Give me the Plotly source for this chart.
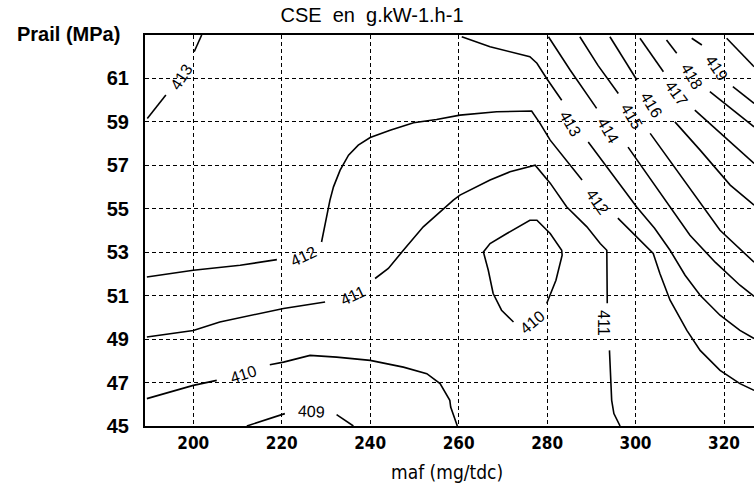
import plotly.graph_objects as go

# ---- axis ticks ----
maf_ticks = [200, 220, 240, 260, 280, 300, 320]
prail_ticks = [45, 47, 49, 51, 53, 55, 57, 59, 61]

# ---- contour lines (maf, Prail); None = label gap ----
c409_x = [212.1, 219.6, 220.7, None, 232.4, 236.2]
c409_y = [45.0, 45.52, 45.57, None, 45.52, 45.0]

c410a_x = [189.5, 200.0, 205.3, None, 217.3, 220.4, 226.4, 232.4, 240.0, 247.5, 252.8, 255.8, 258.0, 258.2, 259.7]
c410a_y = [46.26, 46.87, 47.10, None, 47.82, 47.94, 48.25, 48.17, 48.02, 47.71, 47.41, 46.95, 46.18, 45.87, 45.0]

c410b_x = [272.4, 269.7, 267.8, 266.7, 265.6, 267.1, 270.9, 276.1, 277.7, 280.7, 283.3, 283.4, 282.0, 279.9]
c410b_y = [49.79, 50.33, 51.10, 52.17, 53.01, 53.40, 53.86, 54.47, 54.47, 53.86, 53.09, 52.86, 51.71, 50.64]

c411_x = [189.5, 200.0, 206.0, 220.4, 229.8, None,
          241.1, 244.1, 247.5, 252.0, 258.8, 260.3, 267.1, 271.6, 277.3, 280.7, 284.4, 289.0, 292.0, 293.5, 293.6, None,
          294.1, 294.6, 295.1, 296.5]
c411_y = [49.10, 49.40, 49.79, 50.41, 50.71, None,
          51.79, 52.25, 53.09, 54.17, 55.40, 55.63, 56.32, 56.70, 57.01, 56.18, 55.09, 54.17, 53.40, 53.09, 50.65, None,
          48.48, 46.18, 45.57, 45.0]

c412_x = [189.5, 200.0, 210.6, 218.9, None,
          229.0, 230.0, 230.9, 231.7, 233.2, 235.1, 237.3, 240.0, 244.5, 249.8, 255.0, 260.3, 268.6, 276.5, 278.4, 280.7, 282.9, 287.9, None,
          296.0, 300.3, 304.0, 305.5, 307.8, 311.6, 314.6, 319.1, 323.6, 326.8]
c412_y = [51.86, 52.17, 52.40, 52.66, None,
          53.47, 54.47, 55.40, 56.01, 56.78, 57.47, 57.93, 58.28, 58.62, 58.96, 59.11, 59.31, 59.47, 59.50, 58.93, 58.16, 57.61, 56.32, None,
          54.57, 53.70, 52.94, 52.02, 50.79, 49.40, 48.48, 47.56, 46.95, 46.64]

c413_x = [189.6, 193.8, None, 200.2, 201.9, None,
          260.7, 267.1, 276.1, 277.7, 279.9, 283.3, None,
          289.3, 300.3, 304.3, 307.8, 311.2, 314.6, 319.1, 323.6, 326.8]
c413_y = [59.16, 60.24, None, 62.23, 63.0, None,
          62.92, 62.46, 62.00, 61.70, 61.00, 60.00, None,
          58.07, 55.07, 54.10, 53.09, 51.94, 51.02, 50.10, 49.40, 49.03]

c414_x = [280.3, 285.2, 291.2, None, 298.3, 307.8, 312.3, 318.0, 323.6, 326.8]
c414_y = [62.92, 61.39, 59.62, None, 57.84, 55.09, 53.78, 52.54, 51.48, 50.97]

c415_x = [287.4, 291.5, 296.1, None, 303.3, 314.6, 319.1, 326.8]
c415_y = [62.92, 61.60, 60.31, None, 58.47, 55.24, 54.01, 52.54]

c416_x = [294.2, 300.3, None, 308.9, 314.6, 321.4, 326.8]
c416_y = [62.92, 60.93, None, 59.00, 57.70, 56.09, 55.17]

c417_x = [301.0, 306.3, None, 313.4, 326.8]
c417_y = [62.85, 61.31, None, 59.54, 57.09]

c418_x = [307.0, 309.3, None, 316.8, 326.8]
c418_y = [62.77, 62.16, None, 60.39, 58.77]

c419_x = [312.7, 315.0, None, 322.0, 326.8]
c419_y = [62.85, 62.54, None, 60.62, 59.85]

c420_x = [320.6, 326.8]
c420_y = [62.85, 61.54]

# ---- contour labels ----
label_text = ["409", "410", "410", "411", "411", "412", "412", "413", "413",
              "414", "415", "416", "417", "418", "419"]
label_x = [226.8, 211.3, 276.6, 236.1, 292.9, 224.9, 291.5, 197.4, 285.4,
           293.8, 299.1, 303.7, 309.3, 312.7, 318.4]
label_y = [45.67, 47.38, 49.77, 51.02, 49.73, 52.82, 55.30, 61.08, 58.90,
           58.62, 59.24, 59.77, 60.31, 61.08, 61.46]
label_angle = [3, -18, -40, -25, 90, -25, 55, -57, 60, 60, 59, 59, 54, 60, 56]

lines = [
    (c409_x, c409_y), (c410a_x, c410a_y), (c410b_x, c410b_y), (c411_x, c411_y),
    (c412_x, c412_y), (c413_x, c413_y), (c414_x, c414_y), (c415_x, c415_y),
    (c416_x, c416_y), (c417_x, c417_y), (c418_x, c418_y), (c419_x, c419_y),
    (c420_x, c420_y),
]

fig = go.Figure()
for xs, ys in lines:
    fig.add_trace(go.Scatter(x=xs, y=ys, mode="lines",
                             line=dict(color="black", width=1.6),
                             connectgaps=False, hoverinfo="skip", showlegend=False))

for t, x, y, a in zip(label_text, label_x, label_y, label_angle):
    fig.add_annotation(x=x, y=y, text=t, textangle=a, showarrow=False,
                       font=dict(family="Liberation Sans, Arial, sans-serif", size=16, color="black"))

W, H = 754, 486
L, R, T, B = 145, 0, 35, 60
pw, ph = W - L - R, H - T - B

def px_to_paper_x(px):
    return (px - L) / pw

def py_to_paper_y(py):
    return (H - B - py) / ph

narrow = "Liberation Sans Narrow, DejaVu Sans Condensed, Arial Narrow, sans-serif"

fig.add_annotation(xref="paper", yref="paper", x=px_to_paper_x(15), y=py_to_paper_y(34),
                   xanchor="left", yanchor="middle", text="Prail (MPa)", showarrow=False,
                   font=dict(family="Liberation Sans, Arial, sans-serif", size=20, color="black", weight="bold"))
fig.add_annotation(xref="paper", yref="paper", x=px_to_paper_x(447), y=py_to_paper_y(472),
                   xanchor="center", yanchor="middle", text="maf (mg/tdc)", showarrow=False,
                   font=dict(family=narrow, size=19, color="black"))

fig.update_layout(
    width=W, height=H,
    margin=dict(l=L, r=R, t=T, b=B, pad=0),
    paper_bgcolor="white", plot_bgcolor="white",
    title=dict(text="CSE\u00a0 en\u00a0 g.kW-1.h-1", x=372 / W, xanchor="center",
               y=1 - 15 / H, yanchor="middle",
               font=dict(family="Liberation Sans, Arial, sans-serif", size=20, color="black")),
    xaxis=dict(range=[189.08, 326.78], tickmode="array", tickvals=maf_ticks,
               ticktext=[str(v) for v in maf_ticks],
               showgrid=True, gridcolor="black", gridwidth=1, griddash="4px,3px",
               showline=True, linecolor="black", linewidth=2, mirror=True,
               ticks="", zeroline=False, ticklabelstandoff=1,
               tickfont=dict(family=narrow, size=17, color="black", weight="bold")),
    yaxis=dict(range=[45, 63], tickmode="array", tickvals=prail_ticks,
               ticktext=[str(v) for v in prail_ticks],
               showgrid=True, gridcolor="black", gridwidth=1, griddash="4px,3px",
               showline=True, linecolor="black", linewidth=2, mirror=False,
               ticks="", zeroline=False, ticklabelstandoff=10,
               tickfont=dict(family="Liberation Sans, Arial, sans-serif", size=20, color="black", weight="bold")),
)

fig.write_html("out.html")
